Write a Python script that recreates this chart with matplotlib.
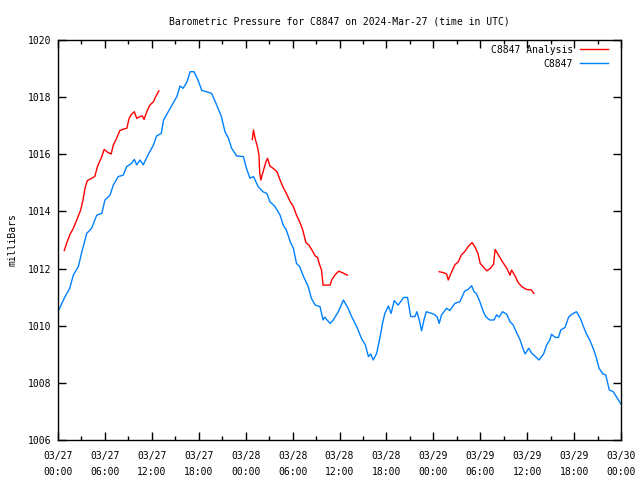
"""
Barometric pressure for station C8847, observed vs analysis
"""
import matplotlib
matplotlib.use('Agg')
import matplotlib.pyplot as plt

# hours since 2024-03-27 00:00 UTC
obs_hours = [0.0, 0.9, 1.5, 1.96, 2.6, 3.0, 3.67, 4.3, 4.95, 5.6, 6.0, 6.65, 7.07, 7.7, 8.35,
             8.78, 9.4, 9.76, 10.06, 10.5, 10.9, 11.5, 12.2, 12.6, 13.2, 13.5, 14.1, 14.7,
             15.2, 15.6, 16.0, 16.5, 16.9, 17.4, 17.9, 18.4, 19.0, 19.65, 20.3, 20.9, 21.35,
             21.8, 22.2, 22.85, 23.7, 24.1, 24.55, 25.0, 25.6, 26.2, 26.7, 27.1, 27.75, 28.4,
             28.8, 29.2, 29.7, 30.1, 30.5, 30.9, 31.4, 32.0, 32.4, 32.9, 33.5, 33.9, 34.1,
             34.8, 35.2, 35.85, 36.5, 37.1, 37.55, 38.2, 38.8, 39.3, 39.7, 40.0, 40.3, 40.75,
             41.2, 41.5, 41.8, 42.25, 42.6, 43.0, 43.5, 44.2, 44.7, 45.1, 45.65, 45.9, 46.2,
             46.5, 46.8, 47.1, 47.8, 48.2, 48.5, 48.75, 49.05, 49.7, 50.1, 50.75, 51.4, 52.0,
             52.45, 52.9, 53.2, 53.5, 53.95, 54.4, 54.7, 55.2, 55.75, 56.1, 56.4, 56.85, 57.4,
             57.8, 58.2, 58.7, 59.1, 59.45, 59.75, 60.2, 60.6, 61.0, 61.5, 62.1, 62.5, 62.9,
             63.1, 63.6, 64.0, 64.3, 64.85, 65.3, 65.7, 66.3, 66.8, 67.2, 67.55, 68.0, 68.4,
             68.8, 69.2, 69.7, 70.05, 70.5, 71.0, 71.4, 72.0]
obs_mb = [1010.49, 1011.02, 1011.31, 1011.77, 1012.07, 1012.53, 1013.23, 1013.41, 1013.87,
          1013.93, 1014.40, 1014.57, 1014.92, 1015.22, 1015.27, 1015.57, 1015.68, 1015.82,
          1015.63, 1015.80, 1015.63, 1015.97, 1016.32, 1016.64, 1016.73, 1017.20, 1017.49,
          1017.78, 1018.02, 1018.39, 1018.31, 1018.54, 1018.89, 1018.89, 1018.60, 1018.23,
          1018.19, 1018.13, 1017.72, 1017.32, 1016.79, 1016.56, 1016.21, 1015.94, 1015.92,
          1015.51, 1015.16, 1015.22, 1014.87, 1014.69, 1014.63, 1014.34, 1014.17, 1013.87,
          1013.52, 1013.35, 1012.94, 1012.71, 1012.18, 1012.07, 1011.72, 1011.37, 1010.96,
          1010.72, 1010.67, 1010.20, 1010.30, 1010.08, 1010.20, 1010.49, 1010.90, 1010.61,
          1010.32, 1009.97, 1009.56, 1009.33, 1008.92, 1009.01, 1008.80, 1009.03, 1009.62,
          1010.08, 1010.43, 1010.69, 1010.43, 1010.88, 1010.72, 1010.99, 1010.99, 1010.32,
          1010.32, 1010.49, 1010.20, 1009.82, 1010.20, 1010.49, 1010.43, 1010.38, 1010.30,
          1010.08, 1010.38, 1010.61, 1010.53, 1010.78, 1010.84, 1011.21, 1011.27, 1011.40,
          1011.19, 1011.13, 1010.84, 1010.49, 1010.32, 1010.20, 1010.20, 1010.38, 1010.30,
          1010.49, 1010.40, 1010.14, 1010.03, 1009.73, 1009.50, 1009.21, 1009.01, 1009.21,
          1009.03, 1008.94, 1008.80, 1009.01, 1009.33, 1009.50, 1009.70, 1009.59, 1009.59,
          1009.85, 1009.94, 1010.30, 1010.40, 1010.49, 1010.26, 1009.97, 1009.73, 1009.50,
          1009.24, 1008.92, 1008.51, 1008.31, 1008.28, 1007.75, 1007.69, 1007.52, 1007.26]

# analysis comes in three separate runs
ana1_hours = [0.8, 1.1, 1.5, 1.96, 2.4, 2.9, 3.2, 3.45, 3.75, 4.3, 4.7, 5.07, 5.6, 5.9, 6.4,
              6.8, 7.07, 7.5, 7.9, 8.35, 8.8, 9.1, 9.4, 9.76, 10.06, 10.5, 10.8, 11.0, 11.35,
              11.75, 12.2, 12.5, 12.9]
ana1_mb = [1012.63, 1012.88, 1013.18, 1013.41, 1013.70, 1014.05, 1014.40, 1014.81, 1015.08,
           1015.16, 1015.22, 1015.59, 1015.92, 1016.17, 1016.06, 1016.01, 1016.32, 1016.56,
           1016.83, 1016.88, 1016.91, 1017.26, 1017.40, 1017.49, 1017.26, 1017.32, 1017.34,
           1017.22, 1017.49, 1017.72, 1017.84, 1018.02, 1018.22]
ana2_hours = [24.85, 25.0, 25.2, 25.5, 25.7, 25.8, 25.95, 26.1, 26.35, 26.6, 26.8, 27.1, 27.5,
              28.0, 28.4, 28.8, 29.2, 29.7, 30.1, 30.5, 30.9, 31.3, 31.7, 32.1, 32.6, 32.9,
              33.2, 33.4, 33.7, 33.9, 34.8, 35.0, 35.4, 35.9, 36.5, 37.0]
ana2_mb = [1016.52, 1016.85, 1016.56, 1016.27, 1015.97, 1015.33, 1015.10, 1015.27, 1015.51,
           1015.74, 1015.86, 1015.59, 1015.51, 1015.39, 1015.10, 1014.84, 1014.63, 1014.34,
           1014.17, 1013.87, 1013.64, 1013.35, 1012.91, 1012.82, 1012.59, 1012.44, 1012.39,
           1012.18, 1011.95, 1011.42, 1011.42, 1011.60, 1011.77, 1011.91, 1011.84, 1011.77]
ana3_hours = [48.75, 49.25, 49.7, 49.9, 50.35, 50.75, 51.2, 51.6, 52.0, 52.45, 52.95, 53.3,
              53.7, 54.0, 54.45, 54.85, 55.3, 55.7, 55.9, 56.25, 56.7, 57.1, 57.4, 57.8, 58.0,
              58.4, 58.85, 59.3, 59.9, 60.55, 60.85]
ana3_mb = [1011.89, 1011.86, 1011.81, 1011.60, 1011.89, 1012.13, 1012.24, 1012.48, 1012.59,
           1012.77, 1012.91, 1012.77, 1012.53, 1012.18, 1012.04, 1011.92, 1012.01, 1012.15,
           1012.67, 1012.51, 1012.30, 1012.13, 1012.01, 1011.77, 1011.95, 1011.77, 1011.51,
           1011.37, 1011.27, 1011.25, 1011.13]

tick_hours = list(range(0, 73, 6))
tick_labels = ['03/27\n00:00', '03/27\n06:00', '03/27\n12:00', '03/27\n18:00',
               '03/28\n00:00', '03/28\n06:00', '03/28\n12:00', '03/28\n18:00',
               '03/29\n00:00', '03/29\n06:00', '03/29\n12:00', '03/29\n18:00',
               '03/30\n00:00']
y_ticks = [1006, 1008, 1010, 1012, 1014, 1016, 1018, 1020]

plt.rcParams['font.family'] = ['DejaVu Sans Mono']
plt.rcParams['font.size'] = 7

red = '#ff0000'
blue = '#0080ff'

fig = plt.figure(figsize=(6.4, 4.8), dpi=100)
ax = fig.add_axes([58 / 640, 40 / 480, 563 / 640, 400 / 480])

ax.plot(ana1_hours, ana1_mb, color=red, lw=1, label='C8847 Analysis')
ax.plot(ana2_hours, ana2_mb, color=red, lw=1)
ax.plot(ana3_hours, ana3_mb, color=red, lw=1)
ax.plot(obs_hours, obs_mb, color=blue, lw=1, label='C8847')

ax.set_xlim(0, 72)
ax.set_ylim(1006, 1020)
ax.set_xticks(tick_hours)
ax.set_xticklabels(tick_labels, linespacing=1.7)
ax.set_xticks(range(3, 72, 6), minor=True)
ax.set_yticks(y_ticks)
ax.tick_params(which='both', direction='in', top=True, right=True, width=1)
ax.tick_params(which='major', length=6)
ax.tick_params(axis='x', which='major', pad=8)
ax.tick_params(axis='y', which='major', pad=5)
ax.tick_params(which='minor', length=3)
for s in ax.spines.values():
    s.set_linewidth(1)

ax.set_ylabel('milliBars', labelpad=7)
ax.set_title('Barometric Pressure for C8847 on 2024-Mar-27 (time in UTC)', fontsize=7, pad=11)

ax.legend(loc='upper right', bbox_to_anchor=(1 - 5 / 563, 1 + 3 / 400), frameon=False,
          markerfirst=False, handlelength=2.9, handletextpad=0.7, labelspacing=0.4,
          borderaxespad=0.4)

plt.savefig('out.png', dpi=100)
plt.close()
